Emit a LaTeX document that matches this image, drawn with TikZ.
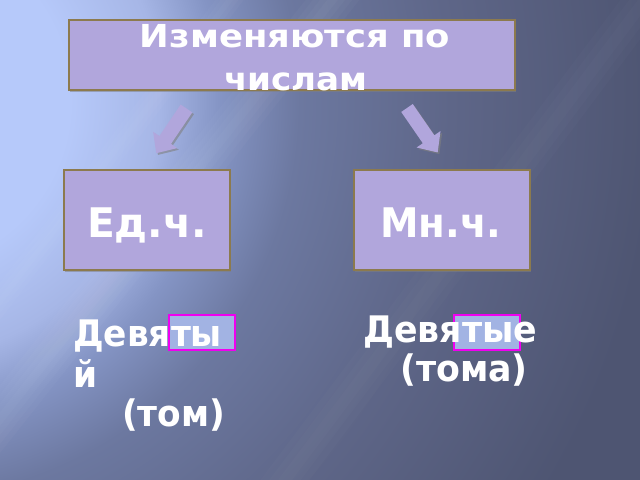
\documentclass[tikz,border=0pt]{standalone}
\usepackage{fontspec}
\setmainfont{DejaVu Sans}
\usetikzlibrary{shadows}
\definecolor{boxfill}{HTML}{B1A6DC}
\definecolor{boxline}{HTML}{8C7A4E}
\definecolor{bgdark}{HTML}{4E5572}
\definecolor{bglight}{HTML}{B6C9FA}
\definecolor{bgA}{HTML}{A6B6E6}
\definecolor{bgB}{HTML}{8494C4}
\definecolor{bgC}{HTML}{6C78A0}
\definecolor{bgD}{HTML}{5E6688}
\definecolor{hlfill}{HTML}{A2B3E3}
\definecolor{hlline}{HTML}{F000F0}
\pgfdeclareradialshading{bgrad}{\pgfpoint{0bp}{0bp}}{%
  color(0bp)=(bglight); color(4.7bp)=(bglight); color(7.2bp)=(bgA);
  color(8.9bp)=(bgB); color(11.1bp)=(bgC); color(15.3bp)=(bgD);
  color(21bp)=(bgdark); color(50bp)=(bgdark)}
\tikzset{
  card/.style={draw=boxline, line width=1.4pt, fill=boxfill,
    drop shadow={shadow xshift=0.8pt, shadow yshift=-1.6pt, opacity=.55}},
  blockarrow/.style={fill=boxfill,
    drop shadow={shadow xshift=1.2pt, shadow yshift=-1.2pt, opacity=.6}},
  hl/.style={draw=hlline, line width=1.1pt, fill=hlfill},
  wtext/.style={text=white, font=\bfseries\fontsize{#1}{#1}\selectfont, inner sep=0pt},
  softband/.style={white, opacity=0.022, line cap=butt},
}
\begin{document}
\begin{tikzpicture}[x=0.025cm, y=-0.025cm]
\useasboundingbox (0,0) rectangle (640,480);
% background
\begin{scope}
\clip (0,0) rectangle (640,480);
\fill[bgdark] (0,0) rectangle (640,480);
\shade[shading=bgrad] (-100,100) circle (900);
\foreach \w in {6,14,22,30} {
  \draw[softband, line width=\w pt] (380,-60) -- (-80,520);
}
\foreach \w in {8,18,28} {
  \draw[softband, opacity=0.015, line width=\w pt] (690,-60) -- (240,540);
}
\foreach \w in {4,10,16} {
  \draw[softband, line width=\w pt] (260,-40) -- (-60,380);
}
\end{scope}
% boxes
\path[card] (69,20) rectangle (515,90);
\node[inner sep=0pt] (top) at (292,55) {};
\path[card] (64,170) rectangle (230,270);
\node[inner sep=0pt] (ed) at (147,220) {};
\path[card] (354,170) rectangle (530,270);
\node[inner sep=0pt] (mn) at (442,220) {};
% arrows
\coordinate (aL) at (186.5,108.5);
\coordinate (aR) at (407,108);
\fill[blockarrow, shift={(aL)}, rotate=235.9]
  (0,-7) -- (38,-7) -- (38,-14.5) -- (54,0) -- (38,14.5) -- (38,7) -- (0,7) -- cycle;
\fill[blockarrow, shift={(aR)}, rotate=-55.4]
  (0,-7) -- (38,-7) -- (38,-14.5) -- (54,0) -- (38,14.5) -- (38,7) -- (0,7) -- cycle;
% texts
\node[wtext=22.5, anchor=base] (t1) at (295,48) {\scalebox{1.12}[1]{Изменяются по}};
\node[wtext=22.5, anchor=base] (t2) at (296,90) {\scalebox{1.08}[1]{числам}};
\node[wtext=29, anchor=base] (edt) at (147,237) {Ед.ч.};
\node[wtext=29, anchor=base] (mnt) at (441,237) {\scalebox{0.95}[1]{Мн.ч.}};
% highlights
\path[hl] (169,315) rectangle (235,350);
\path[hl] (454,315) rectangle (520,350);
\node[wtext=26, anchor=base west] (l1) at (73,346) {\scalebox{0.94}[1]{Девяты}};
\node[wtext=26, anchor=base west] (l2) at (73,387) {\scalebox{0.94}[1]{й}};
\node[wtext=26, anchor=base west] (l3) at (122,426) {\scalebox{0.94}[1]{(том)}};
\node[wtext=26, anchor=base west] (r1) at (363,342) {\scalebox{0.95}[1]{Девятые}};
\node[wtext=26, anchor=base west] (r2) at (400,381) {\scalebox{0.95}[1]{(тома)}};
\end{tikzpicture}
\end{document}
